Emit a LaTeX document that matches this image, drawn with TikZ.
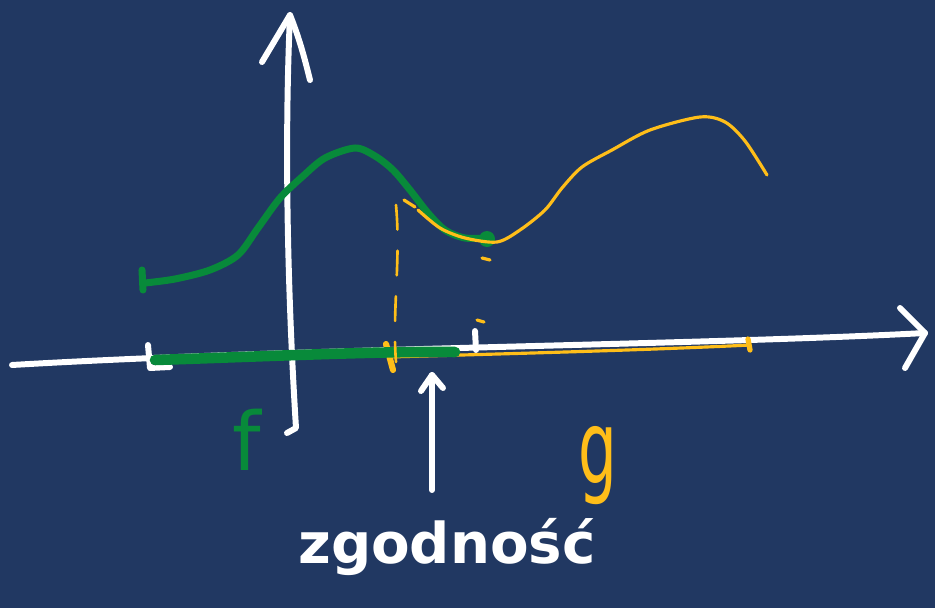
\documentclass[tikz,border=0pt]{standalone}
\usepackage{fontspec}
\setsansfont{DejaVu Sans}
\usetikzlibrary{positioning}

\definecolor{board}{RGB}{33,56,98}
\definecolor{fgreen}{RGB}{8,138,58}
\definecolor{gyellow}{RGB}{255,190,25}

\begin{document}
\begin{tikzpicture}[x=0.02cm, y=-0.02cm,
    chalk/.style={draw=white, line width=3.4pt, line cap=round, line join=round},
    fpen/.style={draw=fgreen, line width=4pt, line cap=round, line join=round},
    fband/.style={draw=fgreen, line width=6pt, line cap=round},
    gpen/.style={draw=gyellow, line width=1.8pt, line cap=round, line join=round},
    gdash/.style={draw=gyellow, line width=1.5pt, line cap=round, dash pattern=on 14pt off 12pt},
    hand/.style={font=\sffamily\bfseries\fontsize{32}{38}\selectfont}
]

% board
\fill[board] (0,0) rectangle (935,608);
\useasboundingbox (0,0) rectangle (935,608);

% axes
\coordinate (xl) at (12,365);
\coordinate (xr) at (925,333);
\coordinate (yb) at (296,428);
\coordinate (yt) at (290,15);
\draw[chalk] (xl) .. controls (300,348) and (700,345) .. (xr);
\draw[chalk] (900,308) -- (xr) -- (905,368);
\draw[chalk] (287,433) -- (yb) .. controls (288,300) and (284,150) .. (yt);
\draw[chalk] (262,62) -- (yt) .. controls (300,40) and (305,60) .. (310,80);

% ticks
\draw[chalk] (148,345) -- (150,368) -- (170,367);
\draw[chalk] (475,331) -- (476,350);

% g on the axis
\draw[gpen] (388,357) .. controls (500,354) and (650,350) .. (750,345);
\draw[gpen, line width=3pt] (748,339) -- (750,350);
\draw[gpen, line width=3.5pt] (386,344) -- (393,370);

% f on the axis
\draw[fband] (155,360) .. controls (250,357) and (380,351) .. (455,352);

% f
\draw[fpen] (142,270) -- (143,290);
\draw[fpen] plot[smooth] coordinates {(145,283) (175,279) (210,270) (238,255) (258,228) (280,198) (302,177) (325,158) (355,148) (375,156) (393,170) (410,190) (428,213) (445,230) (465,238) (490,238)};
\fill[fgreen] (487,239) circle[radius=8];

% g
\draw[gpen] (404,200) -- (415,207);
\draw[gpen] plot[smooth] coordinates {(418,210) (440,228) (465,238) (497,242) (520,230) (545,210) (562,188) (582,167) (612,150) (650,130) (700,117) (725,122) (745,141) (767,175)};

% dashed drops
\draw[gdash] (396,205) .. controls (401,260) and (392,310) .. (396,362);
\draw[gpen] (482,258) -- (490,260);
\draw[gpen] (477,320) -- (484,322);

% pointer
\coordinate (pb) at (432,490);
\coordinate (pt) at (432,375);
\draw[chalk] (pb) -- (pt);
\draw[chalk] (421,391) -- (pt) -- (443,388);

% labels
\node[text=fgreen, font=\sffamily\fontsize{46}{54}\selectfont] (flabel) at (247,440) {f};
\node[text=gyellow, font=\sffamily\fontsize{58}{66}\selectfont, xscale=0.6, transform shape] (glabel) at (598,466) {g};
\node[hand, text=white] (match) at (447,547) {zgodność};
\end{tikzpicture}
\end{document}
